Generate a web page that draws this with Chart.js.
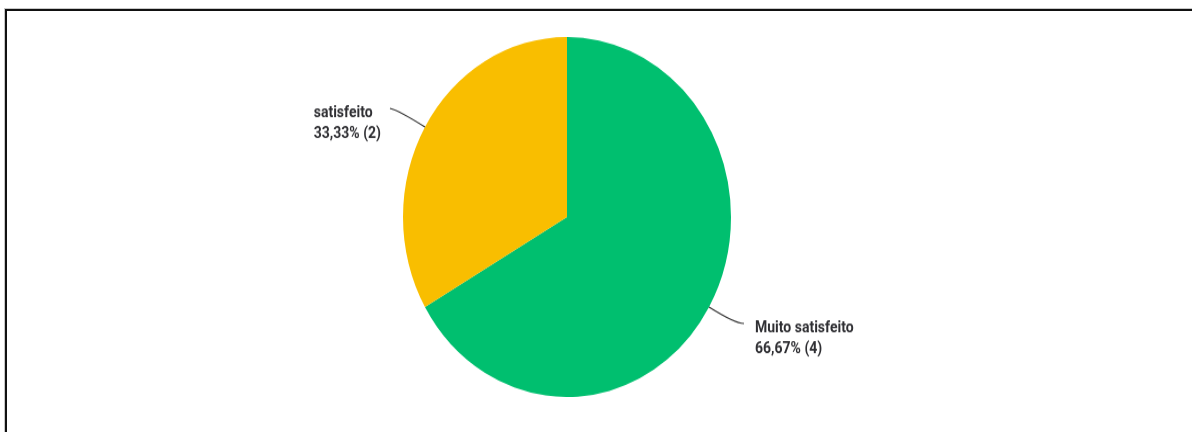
<!DOCTYPE html>
<html>
<head>
<meta charset="utf-8">
<script src="https://cdn.jsdelivr.net/npm/chart.js@4/dist/chart.umd.min.js"></script>
<style>
  html, body { margin: 0; padding: 0; background: #fff; }
  body { width: 1192px; height: 432px; position: relative; overflow: hidden; }
  #frame {
    position: absolute; left: 5px; top: 9px; right: -10px; bottom: -10px;
    border-left: 2px solid #111; border-top: 2px solid #111;
    box-shadow: -1px -1px 0 #c8c8c8;
  }
  #wrap {
    position: absolute; left: 0; top: 37px; width: 1192px; height: 328px;
    transform: scaleY(1.0976); transform-origin: top left;
  }
</style>
</head>
<body>
<div id="frame"></div>
<div id="wrap"><canvas id="chart"></canvas></div>
<script>
// Survey answers: satisfaction level and number of respondents
const categories = ['Muito satisfeito', 'satisfeito'];
const counts = [4, 2];
const sliceColors = ['#00BF6F', '#F9BE00'];

const total = counts.reduce((a, b) => a + b, 0);
const pctText = counts.map(c => (c / total * 100).toFixed(2).replace('.', ',') + '%');

// Leader lines with two-line labels (name, then "pct (count)")
const calloutLabels = {
  id: 'calloutLabels',
  afterDatasetsDraw(chart) {
    const ctx = chart.ctx;
    const meta = chart.getDatasetMeta(0);
    ctx.save();
    ctx.font = 'bold 14px Roboto, "Open Sans", sans-serif';
    ctx.textBaseline = 'alphabetic';
    meta.data.forEach((arc, i) => {
      const p = arc.getProps(['x', 'y', 'startAngle', 'endAngle', 'outerRadius'], true);
      const mid = (p.startAngle + p.endAngle) / 2;
      const cos = Math.cos(mid), sin = Math.sin(mid);
      const ax = p.x + cos * p.outerRadius, ay = p.y + sin * p.outerRadius;
      const bx = p.x + cos * (p.outerRadius + 30), by = p.y + sin * (p.outerRadius + 30);
      const right = cos >= 0;
      const cx = bx + (right ? 9 : -9), cy = by - (right ? 0 : 2);

      ctx.strokeStyle = '#333333';
      ctx.lineWidth = 1.2;
      ctx.beginPath();
      ctx.moveTo(ax, ay);
      ctx.quadraticCurveTo(bx, by, cx, cy);
      ctx.stroke();

      const line1 = categories[i];
      const line2 = pctText[i] + ' (' + counts[i] + ')';
      const w = Math.max(ctx.measureText(line1).width, ctx.measureText(line2).width);
      const tx = right ? cx + 11 : cx - 9 - w;
      ctx.fillStyle = '#2f2f33';
      ctx.textAlign = 'left';
      ctx.fillText(line1, tx, cy + 8);
      ctx.fillText(line2, tx, cy + 26.5);
    });
    ctx.restore();
  }
};

new Chart(document.getElementById('chart'), {
  type: 'pie',
  data: {
    labels: categories,
    datasets: [{
      data: counts,
      backgroundColor: sliceColors,
      borderWidth: 0,
      hoverOffset: 0,
      offset: 0
    }]
  },
  options: {
    responsive: true,
    maintainAspectRatio: false,
    animation: false,
    events: [],
    layout: { padding: { left: 0, right: 58, top: 0, bottom: 0 } },
    plugins: {
      legend: { display: false },
      tooltip: { enabled: false },
      title: { display: false }
    }
  },
  plugins: [calloutLabels]
});
</script>
</body>
</html>
